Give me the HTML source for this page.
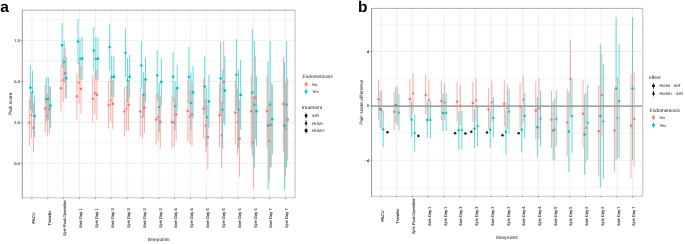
<!DOCTYPE html>
<html><head><meta charset="utf-8"><title>Figure</title>
<style>
html,body{margin:0;padding:0;background:#fff;}
body{width:685px;height:244px;overflow:hidden;font-family:"Liberation Sans",sans-serif;}
svg{display:block;}
#w{width:685px;height:244px;will-change:transform;}
text{text-rendering:geometricPrecision;}
.sm{stroke-width:0.12px;}
.tt{stroke-width:0px;}
</style></head><body>
<div id="w">
<svg width="685" height="244" viewBox="0 0 685 244">
<rect width="685" height="244" fill="#fff"/>
<line x1="22.3" x2="295.0" y1="19.90" y2="19.90" stroke="#f2f2f2" stroke-width="0.8"/>
<line x1="22.3" x2="295.0" y1="60.90" y2="60.90" stroke="#f2f2f2" stroke-width="0.8"/>
<line x1="22.3" x2="295.0" y1="101.90" y2="101.90" stroke="#f2f2f2" stroke-width="0.8"/>
<line x1="22.3" x2="295.0" y1="142.90" y2="142.90" stroke="#f2f2f2" stroke-width="0.8"/>
<line x1="22.3" x2="295.0" y1="183.90" y2="183.90" stroke="#f2f2f2" stroke-width="0.8"/>
<line x1="22.3" x2="295.0" y1="40.40" y2="40.40" stroke="#ebebeb" stroke-width="0.8"/>
<line x1="22.3" x2="295.0" y1="81.40" y2="81.40" stroke="#ebebeb" stroke-width="0.8"/>
<line x1="22.3" x2="295.0" y1="122.40" y2="122.40" stroke="#ebebeb" stroke-width="0.8"/>
<line x1="22.3" x2="295.0" y1="163.40" y2="163.40" stroke="#ebebeb" stroke-width="0.8"/>
<line x1="31.95" x2="31.95" y1="10.2" y2="197.5" stroke="#ebebeb" stroke-width="0.8"/>
<line x1="47.80" x2="47.80" y1="10.2" y2="197.5" stroke="#ebebeb" stroke-width="0.8"/>
<line x1="63.65" x2="63.65" y1="10.2" y2="197.5" stroke="#ebebeb" stroke-width="0.8"/>
<line x1="79.50" x2="79.50" y1="10.2" y2="197.5" stroke="#ebebeb" stroke-width="0.8"/>
<line x1="95.35" x2="95.35" y1="10.2" y2="197.5" stroke="#ebebeb" stroke-width="0.8"/>
<line x1="111.20" x2="111.20" y1="10.2" y2="197.5" stroke="#ebebeb" stroke-width="0.8"/>
<line x1="127.05" x2="127.05" y1="10.2" y2="197.5" stroke="#ebebeb" stroke-width="0.8"/>
<line x1="142.90" x2="142.90" y1="10.2" y2="197.5" stroke="#ebebeb" stroke-width="0.8"/>
<line x1="158.75" x2="158.75" y1="10.2" y2="197.5" stroke="#ebebeb" stroke-width="0.8"/>
<line x1="174.60" x2="174.60" y1="10.2" y2="197.5" stroke="#ebebeb" stroke-width="0.8"/>
<line x1="190.45" x2="190.45" y1="10.2" y2="197.5" stroke="#ebebeb" stroke-width="0.8"/>
<line x1="206.30" x2="206.30" y1="10.2" y2="197.5" stroke="#ebebeb" stroke-width="0.8"/>
<line x1="222.15" x2="222.15" y1="10.2" y2="197.5" stroke="#ebebeb" stroke-width="0.8"/>
<line x1="238.00" x2="238.00" y1="10.2" y2="197.5" stroke="#ebebeb" stroke-width="0.8"/>
<line x1="253.85" x2="253.85" y1="10.2" y2="197.5" stroke="#ebebeb" stroke-width="0.8"/>
<line x1="269.70" x2="269.70" y1="10.2" y2="197.5" stroke="#ebebeb" stroke-width="0.8"/>
<line x1="285.55" x2="285.55" y1="10.2" y2="197.5" stroke="#ebebeb" stroke-width="0.8"/>
<rect x="28.85" y="99.20" width="1.0" height="46.70" fill="#F8766D" fill-opacity="0.6"/>
<rect x="29.90" y="65.10" width="1.0" height="44.90" fill="#00BFC4" fill-opacity="0.6"/>
<rect x="30.95" y="92.80" width="1.0" height="45.20" fill="#F8766D" fill-opacity="0.6"/>
<rect x="31.95" y="70.80" width="1.0" height="42.00" fill="#00BFC4" fill-opacity="0.6"/>
<rect x="33.00" y="103.10" width="1.0" height="49.30" fill="#F8766D" fill-opacity="0.6"/>
<rect x="34.05" y="95.30" width="1.0" height="41.90" fill="#00BFC4" fill-opacity="0.6"/>
<rect x="44.70" y="85.00" width="1.0" height="46.80" fill="#F8766D" fill-opacity="0.6"/>
<rect x="45.75" y="76.50" width="1.0" height="45.40" fill="#00BFC4" fill-opacity="0.6"/>
<rect x="46.80" y="93.80" width="1.0" height="42.80" fill="#F8766D" fill-opacity="0.6"/>
<rect x="47.80" y="77.20" width="1.0" height="43.00" fill="#00BFC4" fill-opacity="0.6"/>
<rect x="48.85" y="86.00" width="1.0" height="47.80" fill="#F8766D" fill-opacity="0.6"/>
<rect x="49.90" y="86.40" width="1.0" height="41.40" fill="#00BFC4" fill-opacity="0.6"/>
<rect x="60.55" y="64.90" width="1.0" height="46.70" fill="#F8766D" fill-opacity="0.6"/>
<rect x="61.60" y="22.70" width="1.0" height="45.30" fill="#00BFC4" fill-opacity="0.6"/>
<rect x="62.65" y="58.10" width="1.0" height="43.60" fill="#F8766D" fill-opacity="0.6"/>
<rect x="63.65" y="40.90" width="1.0" height="42.10" fill="#00BFC4" fill-opacity="0.6"/>
<rect x="64.70" y="48.30" width="1.0" height="49.70" fill="#F8766D" fill-opacity="0.6"/>
<rect x="65.75" y="57.10" width="1.0" height="41.60" fill="#00BFC4" fill-opacity="0.6"/>
<rect x="76.40" y="72.70" width="1.0" height="47.00" fill="#F8766D" fill-opacity="0.6"/>
<rect x="77.45" y="18.90" width="1.0" height="45.10" fill="#00BFC4" fill-opacity="0.6"/>
<rect x="78.50" y="61.00" width="1.0" height="43.00" fill="#F8766D" fill-opacity="0.6"/>
<rect x="79.50" y="38.00" width="1.0" height="41.00" fill="#00BFC4" fill-opacity="0.6"/>
<rect x="80.55" y="66.00" width="1.0" height="47.60" fill="#F8766D" fill-opacity="0.6"/>
<rect x="81.60" y="37.00" width="1.0" height="43.00" fill="#00BFC4" fill-opacity="0.6"/>
<rect x="92.25" y="75.00" width="1.0" height="47.30" fill="#F8766D" fill-opacity="0.6"/>
<rect x="93.30" y="27.00" width="1.0" height="43.90" fill="#00BFC4" fill-opacity="0.6"/>
<rect x="94.35" y="71.00" width="1.0" height="43.50" fill="#F8766D" fill-opacity="0.6"/>
<rect x="95.35" y="37.40" width="1.0" height="42.30" fill="#00BFC4" fill-opacity="0.6"/>
<rect x="96.40" y="69.90" width="1.0" height="49.50" fill="#F8766D" fill-opacity="0.6"/>
<rect x="97.45" y="37.40" width="1.0" height="42.30" fill="#00BFC4" fill-opacity="0.6"/>
<rect x="108.10" y="81.20" width="1.0" height="47.50" fill="#F8766D" fill-opacity="0.6"/>
<rect x="109.15" y="23.70" width="1.0" height="47.20" fill="#00BFC4" fill-opacity="0.6"/>
<rect x="110.20" y="77.80" width="1.0" height="44.00" fill="#F8766D" fill-opacity="0.6"/>
<rect x="111.20" y="55.50" width="1.0" height="41.80" fill="#00BFC4" fill-opacity="0.6"/>
<rect x="112.25" y="80.00" width="1.0" height="48.90" fill="#F8766D" fill-opacity="0.6"/>
<rect x="113.30" y="55.50" width="1.0" height="41.80" fill="#00BFC4" fill-opacity="0.6"/>
<rect x="123.95" y="87.10" width="1.0" height="49.30" fill="#F8766D" fill-opacity="0.6"/>
<rect x="125.00" y="28.60" width="1.0" height="48.20" fill="#00BFC4" fill-opacity="0.6"/>
<rect x="126.05" y="86.00" width="1.0" height="44.70" fill="#F8766D" fill-opacity="0.6"/>
<rect x="127.05" y="58.00" width="1.0" height="44.70" fill="#00BFC4" fill-opacity="0.6"/>
<rect x="128.10" y="80.20" width="1.0" height="50.50" fill="#F8766D" fill-opacity="0.6"/>
<rect x="129.15" y="55.00" width="1.0" height="42.80" fill="#00BFC4" fill-opacity="0.6"/>
<rect x="139.80" y="88.00" width="1.0" height="48.40" fill="#F8766D" fill-opacity="0.6"/>
<rect x="140.85" y="41.20" width="1.0" height="47.80" fill="#00BFC4" fill-opacity="0.6"/>
<rect x="141.90" y="94.00" width="1.0" height="44.70" fill="#F8766D" fill-opacity="0.6"/>
<rect x="142.90" y="72.40" width="1.0" height="43.60" fill="#00BFC4" fill-opacity="0.6"/>
<rect x="143.95" y="81.70" width="1.0" height="51.70" fill="#F8766D" fill-opacity="0.6"/>
<rect x="145.00" y="57.70" width="1.0" height="44.10" fill="#00BFC4" fill-opacity="0.6"/>
<rect x="155.65" y="93.90" width="1.0" height="51.10" fill="#F8766D" fill-opacity="0.6"/>
<rect x="156.70" y="50.30" width="1.0" height="50.40" fill="#00BFC4" fill-opacity="0.6"/>
<rect x="157.75" y="92.90" width="1.0" height="48.00" fill="#F8766D" fill-opacity="0.6"/>
<rect x="158.75" y="82.80" width="1.0" height="49.80" fill="#00BFC4" fill-opacity="0.6"/>
<rect x="159.80" y="95.30" width="1.0" height="53.40" fill="#F8766D" fill-opacity="0.6"/>
<rect x="160.85" y="58.20" width="1.0" height="47.50" fill="#00BFC4" fill-opacity="0.6"/>
<rect x="171.50" y="95.30" width="1.0" height="53.40" fill="#F8766D" fill-opacity="0.6"/>
<rect x="172.55" y="51.60" width="1.0" height="49.60" fill="#00BFC4" fill-opacity="0.6"/>
<rect x="173.60" y="98.00" width="1.0" height="48.80" fill="#F8766D" fill-opacity="0.6"/>
<rect x="174.60" y="81.20" width="1.0" height="48.80" fill="#00BFC4" fill-opacity="0.6"/>
<rect x="175.65" y="88.00" width="1.0" height="52.90" fill="#F8766D" fill-opacity="0.6"/>
<rect x="176.70" y="64.80" width="1.0" height="46.70" fill="#00BFC4" fill-opacity="0.6"/>
<rect x="187.35" y="80.20" width="1.0" height="61.20" fill="#F8766D" fill-opacity="0.6"/>
<rect x="188.40" y="47.00" width="1.0" height="56.00" fill="#00BFC4" fill-opacity="0.6"/>
<rect x="189.45" y="90.00" width="1.0" height="53.80" fill="#F8766D" fill-opacity="0.6"/>
<rect x="190.45" y="72.80" width="1.0" height="57.20" fill="#00BFC4" fill-opacity="0.6"/>
<rect x="191.50" y="82.80" width="1.0" height="63.00" fill="#F8766D" fill-opacity="0.6"/>
<rect x="192.55" y="66.10" width="1.0" height="52.30" fill="#00BFC4" fill-opacity="0.6"/>
<rect x="203.20" y="77.90" width="1.0" height="61.00" fill="#F8766D" fill-opacity="0.6"/>
<rect x="204.25" y="56.20" width="1.0" height="58.80" fill="#00BFC4" fill-opacity="0.6"/>
<rect x="205.30" y="98.30" width="1.0" height="54.40" fill="#F8766D" fill-opacity="0.6"/>
<rect x="206.30" y="88.00" width="1.0" height="58.80" fill="#00BFC4" fill-opacity="0.6"/>
<rect x="207.35" y="105.00" width="1.0" height="64.80" fill="#F8766D" fill-opacity="0.6"/>
<rect x="208.40" y="75.00" width="1.0" height="52.70" fill="#00BFC4" fill-opacity="0.6"/>
<rect x="219.05" y="83.00" width="1.0" height="64.40" fill="#F8766D" fill-opacity="0.6"/>
<rect x="220.10" y="42.50" width="1.0" height="71.80" fill="#00BFC4" fill-opacity="0.6"/>
<rect x="221.15" y="102.00" width="1.0" height="65.70" fill="#F8766D" fill-opacity="0.6"/>
<rect x="222.15" y="70.00" width="1.0" height="78.60" fill="#00BFC4" fill-opacity="0.6"/>
<rect x="223.20" y="41.00" width="1.0" height="82.00" fill="#F8766D" fill-opacity="0.6"/>
<rect x="224.25" y="56.00" width="1.0" height="69.00" fill="#00BFC4" fill-opacity="0.6"/>
<rect x="234.90" y="80.70" width="1.0" height="63.70" fill="#F8766D" fill-opacity="0.6"/>
<rect x="235.95" y="39.20" width="1.0" height="70.80" fill="#00BFC4" fill-opacity="0.6"/>
<rect x="237.00" y="88.80" width="1.0" height="65.80" fill="#F8766D" fill-opacity="0.6"/>
<rect x="238.00" y="70.00" width="1.0" height="78.60" fill="#00BFC4" fill-opacity="0.6"/>
<rect x="239.05" y="100.00" width="1.0" height="76.80" fill="#F8766D" fill-opacity="0.6"/>
<rect x="240.10" y="60.00" width="1.0" height="69.80" fill="#00BFC4" fill-opacity="0.6"/>
<rect x="250.75" y="75.10" width="1.0" height="72.30" fill="#F8766D" fill-opacity="0.6"/>
<rect x="251.80" y="29.00" width="1.0" height="127.40" fill="#00BFC4" fill-opacity="0.6"/>
<rect x="252.85" y="96.00" width="1.0" height="92.80" fill="#F8766D" fill-opacity="0.6"/>
<rect x="253.85" y="41.00" width="1.0" height="126.70" fill="#00BFC4" fill-opacity="0.6"/>
<rect x="254.90" y="56.20" width="1.0" height="82.80" fill="#F8766D" fill-opacity="0.6"/>
<rect x="255.95" y="76.30" width="1.0" height="69.90" fill="#00BFC4" fill-opacity="0.6"/>
<rect x="266.60" y="75.10" width="1.0" height="72.30" fill="#F8766D" fill-opacity="0.6"/>
<rect x="267.65" y="62.00" width="1.0" height="127.60" fill="#00BFC4" fill-opacity="0.6"/>
<rect x="268.70" y="101.00" width="1.0" height="80.00" fill="#F8766D" fill-opacity="0.6"/>
<rect x="269.70" y="41.00" width="1.0" height="126.80" fill="#00BFC4" fill-opacity="0.6"/>
<rect x="270.75" y="83.00" width="1.0" height="84.10" fill="#F8766D" fill-opacity="0.6"/>
<rect x="271.80" y="84.60" width="1.0" height="70.00" fill="#00BFC4" fill-opacity="0.6"/>
<rect x="282.95" y="56.80" width="1.0" height="94.80" fill="#F8766D" fill-opacity="0.6"/>
<rect x="284.00" y="62.00" width="1.0" height="127.60" fill="#00BFC4" fill-opacity="0.6"/>
<rect x="285.05" y="82.00" width="1.0" height="93.60" fill="#F8766D" fill-opacity="0.6"/>
<rect x="286.10" y="41.00" width="1.0" height="126.70" fill="#00BFC4" fill-opacity="0.6"/>
<rect x="287.15" y="78.40" width="1.0" height="82.20" fill="#F8766D" fill-opacity="0.6"/>
<circle cx="29.35" cy="122.50" r="1.25" fill="#F8766D"/>
<circle cx="30.40" cy="87.70" r="1.25" fill="#00BFC4"/>
<polygon points="31.45,113.42 30.01,116.01 32.89,116.01" fill="#F8766D"/>
<polygon points="32.45,90.22 31.01,92.81 33.89,92.81" fill="#00BFC4"/>
<rect x="32.31" y="126.61" width="2.38" height="2.38" fill="#F8766D"/>
<rect x="33.36" y="114.81" width="2.38" height="2.38" fill="#00BFC4"/>
<circle cx="45.20" cy="108.60" r="1.25" fill="#F8766D"/>
<circle cx="46.25" cy="99.20" r="1.25" fill="#00BFC4"/>
<polygon points="47.30,113.92 45.86,116.51 48.74,116.51" fill="#F8766D"/>
<polygon points="48.30,97.12 46.86,99.71 49.74,99.71" fill="#00BFC4"/>
<rect x="48.16" y="107.81" width="2.38" height="2.38" fill="#F8766D"/>
<rect x="49.21" y="104.41" width="2.38" height="2.38" fill="#00BFC4"/>
<circle cx="61.05" cy="88.30" r="1.25" fill="#F8766D"/>
<circle cx="62.10" cy="45.30" r="1.25" fill="#00BFC4"/>
<polygon points="63.15,78.22 61.71,80.81 64.59,80.81" fill="#F8766D"/>
<polygon points="64.15,60.52 62.71,63.11 65.59,63.11" fill="#00BFC4"/>
<rect x="64.01" y="72.01" width="2.38" height="2.38" fill="#F8766D"/>
<rect x="65.06" y="77.01" width="2.38" height="2.38" fill="#00BFC4"/>
<circle cx="76.90" cy="96.30" r="1.25" fill="#F8766D"/>
<circle cx="77.95" cy="41.40" r="1.25" fill="#00BFC4"/>
<polygon points="79.00,80.92 77.56,83.51 80.44,83.51" fill="#F8766D"/>
<polygon points="80.00,57.02 78.56,59.61 81.44,59.61" fill="#00BFC4"/>
<rect x="79.86" y="87.71" width="2.38" height="2.38" fill="#F8766D"/>
<rect x="80.91" y="57.41" width="2.38" height="2.38" fill="#00BFC4"/>
<circle cx="92.75" cy="98.80" r="1.25" fill="#F8766D"/>
<circle cx="93.80" cy="50.60" r="1.25" fill="#00BFC4"/>
<polygon points="94.85,91.32 93.41,93.91 96.29,93.91" fill="#F8766D"/>
<polygon points="95.85,57.12 94.41,59.71 97.29,59.71" fill="#00BFC4"/>
<rect x="95.71" y="93.51" width="2.38" height="2.38" fill="#F8766D"/>
<rect x="96.76" y="57.51" width="2.38" height="2.38" fill="#00BFC4"/>
<circle cx="108.60" cy="104.90" r="1.25" fill="#F8766D"/>
<circle cx="109.65" cy="47.10" r="1.25" fill="#00BFC4"/>
<polygon points="110.70,98.42 109.26,101.01 112.14,101.01" fill="#F8766D"/>
<polygon points="111.70,75.22 110.26,77.81 113.14,77.81" fill="#00BFC4"/>
<rect x="111.56" y="102.71" width="2.38" height="2.38" fill="#F8766D"/>
<rect x="112.61" y="75.61" width="2.38" height="2.38" fill="#00BFC4"/>
<circle cx="124.45" cy="111.60" r="1.25" fill="#F8766D"/>
<circle cx="125.50" cy="52.80" r="1.25" fill="#00BFC4"/>
<polygon points="126.55,106.92 125.11,109.51 127.99,109.51" fill="#F8766D"/>
<polygon points="127.55,78.62 126.11,81.21 128.99,81.21" fill="#00BFC4"/>
<rect x="127.41" y="103.71" width="2.38" height="2.38" fill="#F8766D"/>
<rect x="128.46" y="75.61" width="2.38" height="2.38" fill="#00BFC4"/>
<circle cx="140.30" cy="111.60" r="1.25" fill="#F8766D"/>
<circle cx="141.35" cy="65.50" r="1.25" fill="#00BFC4"/>
<polygon points="142.40,114.82 140.96,117.41 143.84,117.41" fill="#F8766D"/>
<polygon points="143.40,93.12 141.96,95.71 144.84,95.71" fill="#00BFC4"/>
<rect x="143.26" y="106.51" width="2.38" height="2.38" fill="#F8766D"/>
<rect x="144.31" y="78.31" width="2.38" height="2.38" fill="#00BFC4"/>
<circle cx="156.15" cy="119.50" r="1.25" fill="#F8766D"/>
<circle cx="157.20" cy="75.60" r="1.25" fill="#00BFC4"/>
<polygon points="158.25,115.32 156.81,117.91 159.69,117.91" fill="#F8766D"/>
<polygon points="159.25,105.42 157.81,108.01 160.69,108.01" fill="#00BFC4"/>
<rect x="159.11" y="120.81" width="2.38" height="2.38" fill="#F8766D"/>
<rect x="160.16" y="80.71" width="2.38" height="2.38" fill="#00BFC4"/>
<circle cx="172.00" cy="122.00" r="1.25" fill="#F8766D"/>
<circle cx="173.05" cy="76.70" r="1.25" fill="#00BFC4"/>
<polygon points="174.10,121.02 172.66,123.61 175.54,123.61" fill="#F8766D"/>
<polygon points="175.10,104.42 173.66,107.01 176.54,107.01" fill="#00BFC4"/>
<rect x="174.96" y="113.21" width="2.38" height="2.38" fill="#F8766D"/>
<rect x="176.01" y="87.01" width="2.38" height="2.38" fill="#00BFC4"/>
<circle cx="187.85" cy="111.00" r="1.25" fill="#F8766D"/>
<circle cx="188.90" cy="77.00" r="1.25" fill="#00BFC4"/>
<polygon points="189.95,114.82 188.51,117.41 191.39,117.41" fill="#F8766D"/>
<polygon points="190.95,101.32 189.51,103.91 192.39,103.91" fill="#00BFC4"/>
<rect x="190.81" y="113.21" width="2.38" height="2.38" fill="#F8766D"/>
<rect x="191.86" y="91.21" width="2.38" height="2.38" fill="#00BFC4"/>
<circle cx="203.70" cy="108.80" r="1.25" fill="#F8766D"/>
<circle cx="204.75" cy="86.50" r="1.25" fill="#00BFC4"/>
<polygon points="205.80,123.92 204.36,126.51 207.24,126.51" fill="#F8766D"/>
<polygon points="206.80,115.32 205.36,117.91 208.24,117.91" fill="#00BFC4"/>
<rect x="206.66" y="135.81" width="2.38" height="2.38" fill="#F8766D"/>
<rect x="207.71" y="100.21" width="2.38" height="2.38" fill="#00BFC4"/>
<circle cx="219.55" cy="115.20" r="1.25" fill="#F8766D"/>
<circle cx="220.60" cy="78.40" r="1.25" fill="#00BFC4"/>
<polygon points="221.65,133.62 220.21,136.21 223.09,136.21" fill="#F8766D"/>
<polygon points="222.65,107.92 221.21,110.51 224.09,110.51" fill="#00BFC4"/>
<rect x="222.51" y="80.81" width="2.38" height="2.38" fill="#F8766D"/>
<rect x="223.56" y="89.41" width="2.38" height="2.38" fill="#00BFC4"/>
<circle cx="235.40" cy="112.40" r="1.25" fill="#F8766D"/>
<circle cx="236.45" cy="74.80" r="1.25" fill="#00BFC4"/>
<polygon points="237.50,120.42 236.06,123.01 238.94,123.01" fill="#F8766D"/>
<polygon points="238.50,107.92 237.06,110.51 239.94,110.51" fill="#00BFC4"/>
<rect x="238.36" y="137.51" width="2.38" height="2.38" fill="#F8766D"/>
<rect x="239.41" y="93.61" width="2.38" height="2.38" fill="#00BFC4"/>
<circle cx="251.25" cy="111.20" r="1.25" fill="#F8766D"/>
<circle cx="252.30" cy="92.60" r="1.25" fill="#00BFC4"/>
<polygon points="253.35,140.82 251.91,143.41 254.79,143.41" fill="#F8766D"/>
<polygon points="254.35,102.82 252.91,105.41 255.79,105.41" fill="#00BFC4"/>
<rect x="254.21" y="96.61" width="2.38" height="2.38" fill="#F8766D"/>
<rect x="255.26" y="110.11" width="2.38" height="2.38" fill="#00BFC4"/>
<circle cx="267.10" cy="111.20" r="1.25" fill="#F8766D"/>
<circle cx="268.15" cy="125.60" r="1.25" fill="#00BFC4"/>
<polygon points="269.20,139.52 267.76,142.11 270.64,142.11" fill="#F8766D"/>
<polygon points="270.20,102.82 268.76,105.41 271.64,105.41" fill="#00BFC4"/>
<rect x="270.06" y="123.81" width="2.38" height="2.38" fill="#F8766D"/>
<rect x="271.11" y="118.01" width="2.38" height="2.38" fill="#00BFC4"/>
<circle cx="283.45" cy="104.10" r="1.25" fill="#F8766D"/>
<circle cx="284.50" cy="125.60" r="1.25" fill="#00BFC4"/>
<polygon points="285.55,127.02 284.11,129.61 286.99,129.61" fill="#F8766D"/>
<polygon points="286.60,102.82 285.16,105.41 288.04,105.41" fill="#00BFC4"/>
<rect x="286.46" y="118.41" width="2.38" height="2.38" fill="#F8766D"/>
<line x1="21.85" x2="295.45" y1="10.2" y2="10.2" stroke="#a6a6a6" stroke-width="0.9"/><line x1="21.85" x2="295.5" y1="197.8" y2="197.8" stroke="#c4c4c4" stroke-width="1.1"/><line x1="295.1" x2="295.1" y1="10.2" y2="197.8" stroke="#c4c4c4" stroke-width="1.1"/><line x1="22.3" x2="22.3" y1="10.2" y2="198.3" stroke="#8a8a8a" stroke-width="0.9"/>
<line x1="21.0" x2="22.3" y1="40.40" y2="40.40" stroke="#444" stroke-width="0.6"/>
<text class="sm" stroke="#333" x="19.90" y="41.85" font-size="4" fill="#333" text-anchor="end" font-family="Liberation Sans, sans-serif">7.5</text>
<line x1="21.0" x2="22.3" y1="81.40" y2="81.40" stroke="#444" stroke-width="0.6"/>
<text class="sm" stroke="#333" x="19.90" y="82.85" font-size="4" fill="#333" text-anchor="end" font-family="Liberation Sans, sans-serif">5.0</text>
<line x1="21.0" x2="22.3" y1="122.40" y2="122.40" stroke="#444" stroke-width="0.6"/>
<text class="sm" stroke="#333" x="19.90" y="123.85" font-size="4" fill="#333" text-anchor="end" font-family="Liberation Sans, sans-serif">2.5</text>
<line x1="21.0" x2="22.3" y1="163.40" y2="163.40" stroke="#444" stroke-width="0.6"/>
<text class="sm" stroke="#333" x="19.90" y="164.85" font-size="4" fill="#333" text-anchor="end" font-family="Liberation Sans, sans-serif">0.0</text>
<line x1="31.95" x2="31.95" y1="197.5" y2="198.8" stroke="#444" stroke-width="0.6"/>
<text class="sm" stroke="#333" transform="translate(34.70,218.0) rotate(-90)" font-size="4" fill="#333" text-anchor="middle" font-family="Liberation Sans, sans-serif">PACU</text>
<line x1="47.80" x2="47.80" y1="197.5" y2="198.8" stroke="#444" stroke-width="0.6"/>
<text class="sm" stroke="#333" transform="translate(50.55,218.0) rotate(-90)" font-size="4" fill="#333" text-anchor="middle" font-family="Liberation Sans, sans-serif">Transfer</text>
<line x1="63.65" x2="63.65" y1="197.5" y2="198.8" stroke="#444" stroke-width="0.6"/>
<text class="sm" stroke="#333" transform="translate(66.40,218.0) rotate(-90)" font-size="4" fill="#333" text-anchor="middle" font-family="Liberation Sans, sans-serif">6pm Post-Operative</text>
<line x1="79.50" x2="79.50" y1="197.5" y2="198.8" stroke="#444" stroke-width="0.6"/>
<text class="sm" stroke="#333" transform="translate(82.25,218.0) rotate(-90)" font-size="4" fill="#333" text-anchor="middle" font-family="Liberation Sans, sans-serif">6am Day 1</text>
<line x1="95.35" x2="95.35" y1="197.5" y2="198.8" stroke="#444" stroke-width="0.6"/>
<text class="sm" stroke="#333" transform="translate(98.10,218.0) rotate(-90)" font-size="4" fill="#333" text-anchor="middle" font-family="Liberation Sans, sans-serif">6pm Day 1</text>
<line x1="111.20" x2="111.20" y1="197.5" y2="198.8" stroke="#444" stroke-width="0.6"/>
<text class="sm" stroke="#333" transform="translate(113.95,218.0) rotate(-90)" font-size="4" fill="#333" text-anchor="middle" font-family="Liberation Sans, sans-serif">6am Day 2</text>
<line x1="127.05" x2="127.05" y1="197.5" y2="198.8" stroke="#444" stroke-width="0.6"/>
<text class="sm" stroke="#333" transform="translate(129.80,218.0) rotate(-90)" font-size="4" fill="#333" text-anchor="middle" font-family="Liberation Sans, sans-serif">6pm Day 2</text>
<line x1="142.90" x2="142.90" y1="197.5" y2="198.8" stroke="#444" stroke-width="0.6"/>
<text class="sm" stroke="#333" transform="translate(145.65,218.0) rotate(-90)" font-size="4" fill="#333" text-anchor="middle" font-family="Liberation Sans, sans-serif">6am Day 3</text>
<line x1="158.75" x2="158.75" y1="197.5" y2="198.8" stroke="#444" stroke-width="0.6"/>
<text class="sm" stroke="#333" transform="translate(161.50,218.0) rotate(-90)" font-size="4" fill="#333" text-anchor="middle" font-family="Liberation Sans, sans-serif">6pm Day 3</text>
<line x1="174.60" x2="174.60" y1="197.5" y2="198.8" stroke="#444" stroke-width="0.6"/>
<text class="sm" stroke="#333" transform="translate(177.35,218.0) rotate(-90)" font-size="4" fill="#333" text-anchor="middle" font-family="Liberation Sans, sans-serif">6am Day 4</text>
<line x1="190.45" x2="190.45" y1="197.5" y2="198.8" stroke="#444" stroke-width="0.6"/>
<text class="sm" stroke="#333" transform="translate(193.20,218.0) rotate(-90)" font-size="4" fill="#333" text-anchor="middle" font-family="Liberation Sans, sans-serif">6pm Day 4</text>
<line x1="206.30" x2="206.30" y1="197.5" y2="198.8" stroke="#444" stroke-width="0.6"/>
<text class="sm" stroke="#333" transform="translate(209.05,218.0) rotate(-90)" font-size="4" fill="#333" text-anchor="middle" font-family="Liberation Sans, sans-serif">6am Day 5</text>
<line x1="222.15" x2="222.15" y1="197.5" y2="198.8" stroke="#444" stroke-width="0.6"/>
<text class="sm" stroke="#333" transform="translate(224.90,218.0) rotate(-90)" font-size="4" fill="#333" text-anchor="middle" font-family="Liberation Sans, sans-serif">6pm Day 5</text>
<line x1="238.00" x2="238.00" y1="197.5" y2="198.8" stroke="#444" stroke-width="0.6"/>
<text class="sm" stroke="#333" transform="translate(240.75,218.0) rotate(-90)" font-size="4" fill="#333" text-anchor="middle" font-family="Liberation Sans, sans-serif">6am Day 6</text>
<line x1="253.85" x2="253.85" y1="197.5" y2="198.8" stroke="#444" stroke-width="0.6"/>
<text class="sm" stroke="#333" transform="translate(256.60,218.0) rotate(-90)" font-size="4" fill="#333" text-anchor="middle" font-family="Liberation Sans, sans-serif">6pm Day 6</text>
<line x1="269.70" x2="269.70" y1="197.5" y2="198.8" stroke="#444" stroke-width="0.6"/>
<text class="sm" stroke="#333" transform="translate(272.45,218.0) rotate(-90)" font-size="4" fill="#333" text-anchor="middle" font-family="Liberation Sans, sans-serif">6am Day 7</text>
<line x1="285.55" x2="285.55" y1="197.5" y2="198.8" stroke="#444" stroke-width="0.6"/>
<text class="sm" stroke="#333" transform="translate(288.30,218.0) rotate(-90)" font-size="4" fill="#333" text-anchor="middle" font-family="Liberation Sans, sans-serif">6pm Day 7</text>
<text class="tt" stroke="#111" x="158.65" y="240.7" font-size="4.8" fill="#111" text-anchor="middle" font-family="Liberation Sans, sans-serif">timepoints</text>
<text class="tt" stroke="#111" transform="translate(12.0,103.85) rotate(-90)" font-size="4.8" fill="#111" text-anchor="middle" font-family="Liberation Sans, sans-serif">Pain score</text>
<text class="tt" stroke="#111" x="302.4" y="77.7" font-size="4.8" fill="#111" font-family="Liberation Sans, sans-serif">Endometriosis</text>
<line x1="306.1" x2="306.1" y1="81.30" y2="87.30" stroke="#F8766D" stroke-width="0.65"/><circle cx="306.10" cy="84.30" r="1.45" fill="#F8766D"/>
<text x="311.9" y="85.75" font-size="4.2" fill="#1a1a1a" font-family="Liberation Sans, sans-serif">No</text>
<line x1="306.1" x2="306.1" y1="88.60" y2="94.60" stroke="#00BFC4" stroke-width="0.65"/><circle cx="306.10" cy="91.60" r="1.45" fill="#00BFC4"/>
<text x="311.9" y="93.05" font-size="4.2" fill="#1a1a1a" font-family="Liberation Sans, sans-serif">Yes</text>
<text class="tt" stroke="#111" x="301.9" y="109.0" font-size="4.8" fill="#111" font-family="Liberation Sans, sans-serif">treatment</text>
<line x1="306.1" x2="306.1" y1="112.80" y2="118.80" stroke="#000" stroke-width="0.65"/><circle cx="306.10" cy="115.80" r="1.45" fill="#000"/>
<text x="312" y="117.25" font-size="4.2" fill="#1a1a1a" font-family="Liberation Sans, sans-serif">AIR</text>
<line x1="306.1" x2="306.1" y1="120.20" y2="126.20" stroke="#000" stroke-width="0.65"/><polygon points="306.10,121.37 304.43,124.37 307.77,124.37" fill="#000"/>
<text x="312" y="124.65" font-size="4.2" fill="#1a1a1a" font-family="Liberation Sans, sans-serif">HUMI</text>
<line x1="306.1" x2="306.1" y1="127.60" y2="133.60" stroke="#000" stroke-width="0.65"/><rect x="304.72" y="129.22" width="2.75" height="2.75" fill="#000"/>
<text x="312" y="132.05" font-size="4.2" fill="#1a1a1a" font-family="Liberation Sans, sans-serif">HUMI+</text>
<line x1="371.6" x2="642.6" y1="24.30" y2="24.30" stroke="#f2f2f2" stroke-width="0.8"/>
<line x1="371.6" x2="642.6" y1="78.70" y2="78.70" stroke="#f2f2f2" stroke-width="0.8"/>
<line x1="371.6" x2="642.6" y1="133.10" y2="133.10" stroke="#f2f2f2" stroke-width="0.8"/>
<line x1="371.6" x2="642.6" y1="187.50" y2="187.50" stroke="#f2f2f2" stroke-width="0.8"/>
<line x1="371.6" x2="642.6" y1="51.50" y2="51.50" stroke="#ebebeb" stroke-width="0.8"/>
<line x1="371.6" x2="642.6" y1="105.90" y2="105.90" stroke="#ebebeb" stroke-width="0.8"/>
<line x1="371.6" x2="642.6" y1="160.30" y2="160.30" stroke="#ebebeb" stroke-width="0.8"/>
<line x1="380.95" x2="380.95" y1="8.4" y2="196.0" stroke="#ebebeb" stroke-width="0.8"/>
<line x1="396.68" x2="396.68" y1="8.4" y2="196.0" stroke="#ebebeb" stroke-width="0.8"/>
<line x1="412.41" x2="412.41" y1="8.4" y2="196.0" stroke="#ebebeb" stroke-width="0.8"/>
<line x1="428.14" x2="428.14" y1="8.4" y2="196.0" stroke="#ebebeb" stroke-width="0.8"/>
<line x1="443.87" x2="443.87" y1="8.4" y2="196.0" stroke="#ebebeb" stroke-width="0.8"/>
<line x1="459.60" x2="459.60" y1="8.4" y2="196.0" stroke="#ebebeb" stroke-width="0.8"/>
<line x1="475.33" x2="475.33" y1="8.4" y2="196.0" stroke="#ebebeb" stroke-width="0.8"/>
<line x1="491.06" x2="491.06" y1="8.4" y2="196.0" stroke="#ebebeb" stroke-width="0.8"/>
<line x1="506.79" x2="506.79" y1="8.4" y2="196.0" stroke="#ebebeb" stroke-width="0.8"/>
<line x1="522.52" x2="522.52" y1="8.4" y2="196.0" stroke="#ebebeb" stroke-width="0.8"/>
<line x1="538.25" x2="538.25" y1="8.4" y2="196.0" stroke="#ebebeb" stroke-width="0.8"/>
<line x1="553.98" x2="553.98" y1="8.4" y2="196.0" stroke="#ebebeb" stroke-width="0.8"/>
<line x1="569.71" x2="569.71" y1="8.4" y2="196.0" stroke="#ebebeb" stroke-width="0.8"/>
<line x1="585.44" x2="585.44" y1="8.4" y2="196.0" stroke="#ebebeb" stroke-width="0.8"/>
<line x1="601.17" x2="601.17" y1="8.4" y2="196.0" stroke="#ebebeb" stroke-width="0.8"/>
<line x1="616.90" x2="616.90" y1="8.4" y2="196.0" stroke="#ebebeb" stroke-width="0.8"/>
<line x1="632.63" x2="632.63" y1="8.4" y2="196.0" stroke="#ebebeb" stroke-width="0.8"/>
<line x1="371.6" x2="642.6" y1="106.2" y2="106.2" stroke="#8a8a8a" stroke-width="1.2"/>
<rect x="378.00" y="79.80" width="1.0" height="39.30" fill="#F8766D" fill-opacity="0.6"/>
<rect x="379.60" y="90.90" width="1.0" height="36.90" fill="#00BFC4" fill-opacity="0.6"/>
<rect x="381.15" y="90.30" width="1.0" height="39.70" fill="#F8766D" fill-opacity="0.6"/>
<rect x="382.70" y="111.00" width="1.0" height="36.30" fill="#00BFC4" fill-opacity="0.6"/>
<rect x="393.73" y="92.30" width="1.0" height="37.90" fill="#F8766D" fill-opacity="0.6"/>
<rect x="395.33" y="87.20" width="1.0" height="36.00" fill="#00BFC4" fill-opacity="0.6"/>
<rect x="396.88" y="86.20" width="1.0" height="39.00" fill="#F8766D" fill-opacity="0.6"/>
<rect x="398.43" y="93.70" width="1.0" height="36.50" fill="#00BFC4" fill-opacity="0.6"/>
<rect x="409.46" y="79.20" width="1.0" height="39.30" fill="#F8766D" fill-opacity="0.6"/>
<rect x="411.06" y="101.30" width="1.0" height="36.00" fill="#00BFC4" fill-opacity="0.6"/>
<rect x="412.61" y="73.50" width="1.0" height="39.50" fill="#F8766D" fill-opacity="0.6"/>
<rect x="414.16" y="114.00" width="1.0" height="37.60" fill="#00BFC4" fill-opacity="0.6"/>
<rect x="425.19" y="74.70" width="1.0" height="39.30" fill="#F8766D" fill-opacity="0.6"/>
<rect x="426.79" y="102.00" width="1.0" height="35.30" fill="#00BFC4" fill-opacity="0.6"/>
<rect x="428.34" y="80.20" width="1.0" height="38.80" fill="#F8766D" fill-opacity="0.6"/>
<rect x="429.89" y="100.90" width="1.0" height="37.40" fill="#00BFC4" fill-opacity="0.6"/>
<rect x="440.92" y="80.80" width="1.0" height="39.30" fill="#F8766D" fill-opacity="0.6"/>
<rect x="442.52" y="93.70" width="1.0" height="37.50" fill="#00BFC4" fill-opacity="0.6"/>
<rect x="444.07" y="82.80" width="1.0" height="37.20" fill="#F8766D" fill-opacity="0.6"/>
<rect x="445.62" y="92.90" width="1.0" height="38.30" fill="#00BFC4" fill-opacity="0.6"/>
<rect x="456.65" y="81.80" width="1.0" height="39.30" fill="#F8766D" fill-opacity="0.6"/>
<rect x="458.25" y="111.00" width="1.0" height="38.40" fill="#00BFC4" fill-opacity="0.6"/>
<rect x="459.80" y="84.80" width="1.0" height="40.20" fill="#F8766D" fill-opacity="0.6"/>
<rect x="461.35" y="111.00" width="1.0" height="38.40" fill="#00BFC4" fill-opacity="0.6"/>
<rect x="472.38" y="81.80" width="1.0" height="40.20" fill="#F8766D" fill-opacity="0.6"/>
<rect x="473.98" y="109.00" width="1.0" height="39.00" fill="#00BFC4" fill-opacity="0.6"/>
<rect x="475.53" y="78.80" width="1.0" height="42.90" fill="#F8766D" fill-opacity="0.6"/>
<rect x="477.08" y="106.00" width="1.0" height="40.30" fill="#00BFC4" fill-opacity="0.6"/>
<rect x="488.11" y="88.20" width="1.0" height="40.80" fill="#F8766D" fill-opacity="0.6"/>
<rect x="489.71" y="111.00" width="1.0" height="37.00" fill="#00BFC4" fill-opacity="0.6"/>
<rect x="491.26" y="80.80" width="1.0" height="41.20" fill="#F8766D" fill-opacity="0.6"/>
<rect x="492.81" y="96.90" width="1.0" height="40.40" fill="#00BFC4" fill-opacity="0.6"/>
<rect x="503.84" y="79.80" width="1.0" height="46.40" fill="#F8766D" fill-opacity="0.6"/>
<rect x="505.44" y="110.00" width="1.0" height="44.50" fill="#00BFC4" fill-opacity="0.6"/>
<rect x="506.99" y="84.80" width="1.0" height="44.20" fill="#F8766D" fill-opacity="0.6"/>
<rect x="508.54" y="88.80" width="1.0" height="45.00" fill="#00BFC4" fill-opacity="0.6"/>
<rect x="519.57" y="82.20" width="1.0" height="47.00" fill="#F8766D" fill-opacity="0.6"/>
<rect x="521.17" y="107.00" width="1.0" height="45.40" fill="#00BFC4" fill-opacity="0.6"/>
<rect x="522.72" y="75.50" width="1.0" height="47.70" fill="#F8766D" fill-opacity="0.6"/>
<rect x="524.27" y="92.90" width="1.0" height="45.00" fill="#00BFC4" fill-opacity="0.6"/>
<rect x="535.30" y="81.20" width="1.0" height="58.10" fill="#F8766D" fill-opacity="0.6"/>
<rect x="536.90" y="96.90" width="1.0" height="60.20" fill="#00BFC4" fill-opacity="0.6"/>
<rect x="538.45" y="78.20" width="1.0" height="61.10" fill="#F8766D" fill-opacity="0.6"/>
<rect x="540.00" y="90.90" width="1.0" height="55.40" fill="#00BFC4" fill-opacity="0.6"/>
<rect x="551.03" y="90.90" width="1.0" height="57.10" fill="#F8766D" fill-opacity="0.6"/>
<rect x="552.63" y="100.90" width="1.0" height="59.60" fill="#00BFC4" fill-opacity="0.6"/>
<rect x="554.18" y="97.70" width="1.0" height="62.80" fill="#F8766D" fill-opacity="0.6"/>
<rect x="555.73" y="90.30" width="1.0" height="55.60" fill="#00BFC4" fill-opacity="0.6"/>
<rect x="566.76" y="88.80" width="1.0" height="66.90" fill="#F8766D" fill-opacity="0.6"/>
<rect x="568.36" y="91.70" width="1.0" height="80.10" fill="#00BFC4" fill-opacity="0.6"/>
<rect x="569.91" y="40.20" width="1.0" height="76.80" fill="#F8766D" fill-opacity="0.6"/>
<rect x="571.46" y="78.80" width="1.0" height="74.20" fill="#00BFC4" fill-opacity="0.6"/>
<rect x="582.49" y="79.80" width="1.0" height="67.50" fill="#F8766D" fill-opacity="0.6"/>
<rect x="584.09" y="94.30" width="1.0" height="80.30" fill="#00BFC4" fill-opacity="0.6"/>
<rect x="585.64" y="92.30" width="1.0" height="70.20" fill="#F8766D" fill-opacity="0.6"/>
<rect x="587.19" y="84.80" width="1.0" height="74.90" fill="#00BFC4" fill-opacity="0.6"/>
<rect x="598.22" y="85.20" width="1.0" height="91.40" fill="#F8766D" fill-opacity="0.6"/>
<rect x="599.82" y="43.90" width="1.0" height="143.40" fill="#00BFC4" fill-opacity="0.6"/>
<rect x="601.37" y="54.00" width="1.0" height="82.00" fill="#F8766D" fill-opacity="0.6"/>
<rect x="602.92" y="64.00" width="1.0" height="114.60" fill="#00BFC4" fill-opacity="0.6"/>
<rect x="613.95" y="89.20" width="1.0" height="82.60" fill="#F8766D" fill-opacity="0.6"/>
<rect x="615.55" y="17.10" width="1.0" height="143.00" fill="#00BFC4" fill-opacity="0.6"/>
<rect x="617.10" y="76.70" width="1.0" height="81.30" fill="#F8766D" fill-opacity="0.6"/>
<rect x="618.65" y="43.90" width="1.0" height="114.20" fill="#00BFC4" fill-opacity="0.6"/>
<rect x="630.43" y="73.50" width="1.0" height="104.70" fill="#F8766D" fill-opacity="0.6"/>
<rect x="632.03" y="17.10" width="1.0" height="143.00" fill="#00BFC4" fill-opacity="0.6"/>
<rect x="633.63" y="71.10" width="1.0" height="95.40" fill="#F8766D" fill-opacity="0.6"/>
<circle cx="378.50" cy="99.30" r="1.25" fill="#F8766D"/>
<circle cx="380.10" cy="109.00" r="1.25" fill="#00BFC4"/>
<polygon points="381.65,108.42 380.21,111.01 383.09,111.01" fill="#F8766D"/>
<polygon points="383.20,127.62 381.76,130.21 384.64,130.21" fill="#00BFC4"/>
<circle cx="394.23" cy="111.70" r="1.25" fill="#F8766D"/>
<circle cx="395.83" cy="105.00" r="1.25" fill="#00BFC4"/>
<polygon points="397.38,104.42 395.94,107.01 398.82,107.01" fill="#F8766D"/>
<polygon points="398.93,110.92 397.49,113.51 400.37,113.51" fill="#00BFC4"/>
<circle cx="409.96" cy="98.90" r="1.25" fill="#F8766D"/>
<circle cx="411.56" cy="119.70" r="1.25" fill="#00BFC4"/>
<polygon points="413.11,91.72 411.67,94.31 414.55,94.31" fill="#F8766D"/>
<polygon points="414.66,131.22 413.22,133.81 416.10,133.81" fill="#00BFC4"/>
<circle cx="425.69" cy="94.90" r="1.25" fill="#F8766D"/>
<circle cx="427.29" cy="120.10" r="1.25" fill="#00BFC4"/>
<polygon points="428.84,98.32 427.40,100.91 430.28,100.91" fill="#F8766D"/>
<polygon points="430.39,118.12 428.95,120.71 431.83,120.71" fill="#00BFC4"/>
<circle cx="441.42" cy="100.90" r="1.25" fill="#F8766D"/>
<circle cx="443.02" cy="113.10" r="1.25" fill="#00BFC4"/>
<polygon points="444.57,100.72 443.13,103.31 446.01,103.31" fill="#F8766D"/>
<polygon points="446.12,111.12 444.68,113.71 447.56,113.71" fill="#00BFC4"/>
<circle cx="457.15" cy="101.70" r="1.25" fill="#F8766D"/>
<circle cx="458.75" cy="130.20" r="1.25" fill="#00BFC4"/>
<polygon points="460.30,103.82 458.86,106.41 461.74,106.41" fill="#F8766D"/>
<polygon points="461.85,128.22 460.41,130.81 463.29,130.81" fill="#00BFC4"/>
<circle cx="472.88" cy="103.00" r="1.25" fill="#F8766D"/>
<circle cx="474.48" cy="128.70" r="1.25" fill="#00BFC4"/>
<polygon points="476.03,98.72 474.59,101.31 477.47,101.31" fill="#F8766D"/>
<polygon points="477.58,124.12 476.14,126.71 479.02,126.71" fill="#00BFC4"/>
<circle cx="488.61" cy="109.60" r="1.25" fill="#F8766D"/>
<circle cx="490.21" cy="129.80" r="1.25" fill="#00BFC4"/>
<polygon points="491.76,100.72 490.32,103.31 493.20,103.31" fill="#F8766D"/>
<polygon points="493.31,116.12 491.87,118.71 494.75,118.71" fill="#00BFC4"/>
<circle cx="504.34" cy="103.80" r="1.25" fill="#F8766D"/>
<circle cx="505.94" cy="131.80" r="1.25" fill="#00BFC4"/>
<polygon points="507.49,106.42 506.05,109.01 508.93,109.01" fill="#F8766D"/>
<polygon points="509.04,109.92 507.60,112.51 510.48,112.51" fill="#00BFC4"/>
<circle cx="520.07" cy="106.40" r="1.25" fill="#F8766D"/>
<circle cx="521.67" cy="129.80" r="1.25" fill="#00BFC4"/>
<polygon points="523.22,97.72 521.78,100.31 524.66,100.31" fill="#F8766D"/>
<polygon points="524.77,114.12 523.33,116.71 526.21,116.71" fill="#00BFC4"/>
<circle cx="535.80" cy="110.50" r="1.25" fill="#F8766D"/>
<circle cx="537.40" cy="127.20" r="1.25" fill="#00BFC4"/>
<polygon points="538.95,106.82 537.51,109.41 540.39,109.41" fill="#F8766D"/>
<polygon points="540.50,116.92 539.06,119.51 541.94,119.51" fill="#00BFC4"/>
<circle cx="551.53" cy="119.70" r="1.25" fill="#F8766D"/>
<circle cx="553.13" cy="130.60" r="1.25" fill="#00BFC4"/>
<polygon points="554.68,127.62 553.24,130.21 556.12,130.21" fill="#F8766D"/>
<polygon points="556.23,116.92 554.79,119.51 557.67,119.51" fill="#00BFC4"/>
<circle cx="567.26" cy="122.50" r="1.25" fill="#F8766D"/>
<circle cx="568.86" cy="131.40" r="1.25" fill="#00BFC4"/>
<polygon points="570.41,77.22 568.97,79.81 571.85,79.81" fill="#F8766D"/>
<polygon points="571.96,114.52 570.52,117.11 573.40,117.11" fill="#00BFC4"/>
<circle cx="582.99" cy="113.70" r="1.25" fill="#F8766D"/>
<circle cx="584.59" cy="134.60" r="1.25" fill="#00BFC4"/>
<polygon points="586.14,126.22 584.70,128.81 587.58,128.81" fill="#F8766D"/>
<polygon points="587.69,120.92 586.25,123.51 589.13,123.51" fill="#00BFC4"/>
<circle cx="598.72" cy="131.20" r="1.25" fill="#F8766D"/>
<circle cx="600.32" cy="115.70" r="1.25" fill="#00BFC4"/>
<polygon points="601.87,93.32 600.43,95.91 603.31,95.91" fill="#F8766D"/>
<polygon points="603.42,119.52 601.98,122.11 604.86,122.11" fill="#00BFC4"/>
<circle cx="614.45" cy="130.60" r="1.25" fill="#F8766D"/>
<circle cx="616.05" cy="88.60" r="1.25" fill="#00BFC4"/>
<polygon points="617.60,116.12 616.16,118.71 619.04,118.71" fill="#F8766D"/>
<polygon points="619.15,99.32 617.71,101.91 620.59,101.91" fill="#00BFC4"/>
<circle cx="630.93" cy="125.80" r="1.25" fill="#F8766D"/>
<circle cx="632.53" cy="88.60" r="1.25" fill="#00BFC4"/>
<polygon points="634.13,117.12 632.69,119.71 635.57,119.71" fill="#F8766D"/>
<circle cx="387.50" cy="132.20" r="1.30" fill="#222"/>
<circle cx="418.40" cy="135.90" r="1.30" fill="#222"/>
<circle cx="455.10" cy="133.30" r="1.30" fill="#222"/>
<circle cx="465.40" cy="133.50" r="1.30" fill="#222"/>
<circle cx="471.30" cy="131.80" r="1.30" fill="#222"/>
<circle cx="487.00" cy="132.50" r="1.30" fill="#222"/>
<circle cx="502.50" cy="135.30" r="1.30" fill="#222"/>
<circle cx="518.70" cy="133.20" r="1.30" fill="#222"/>
<line x1="371.15000000000003" x2="643.0500000000001" y1="8.4" y2="8.4" stroke="#a6a6a6" stroke-width="0.9"/><line x1="371.15000000000003" x2="643.1" y1="196.3" y2="196.3" stroke="#c4c4c4" stroke-width="1.1"/><line x1="642.7" x2="642.7" y1="8.4" y2="196.3" stroke="#c4c4c4" stroke-width="1.1"/><line x1="371.6" x2="371.6" y1="8.4" y2="196.8" stroke="#8a8a8a" stroke-width="0.9"/>
<line x1="370.3" x2="371.6" y1="51.50" y2="51.50" stroke="#444" stroke-width="0.6"/>
<text class="sm" stroke="#333" x="369.20" y="52.95" font-size="4" fill="#333" text-anchor="end" font-family="Liberation Sans, sans-serif">4</text>
<line x1="370.3" x2="371.6" y1="105.90" y2="105.90" stroke="#444" stroke-width="0.6"/>
<text class="sm" stroke="#333" x="369.20" y="107.35" font-size="4" fill="#333" text-anchor="end" font-family="Liberation Sans, sans-serif">0</text>
<line x1="370.3" x2="371.6" y1="160.30" y2="160.30" stroke="#444" stroke-width="0.6"/>
<text class="sm" stroke="#333" x="369.20" y="161.75" font-size="4" fill="#333" text-anchor="end" font-family="Liberation Sans, sans-serif">−4</text>
<line x1="380.95" x2="380.95" y1="196.0" y2="197.3" stroke="#444" stroke-width="0.6"/>
<text class="sm" stroke="#333" transform="translate(383.70,216.1) rotate(-90)" font-size="4" fill="#333" text-anchor="middle" font-family="Liberation Sans, sans-serif">PACU</text>
<line x1="396.68" x2="396.68" y1="196.0" y2="197.3" stroke="#444" stroke-width="0.6"/>
<text class="sm" stroke="#333" transform="translate(399.43,216.1) rotate(-90)" font-size="4" fill="#333" text-anchor="middle" font-family="Liberation Sans, sans-serif">Transfer</text>
<line x1="412.41" x2="412.41" y1="196.0" y2="197.3" stroke="#444" stroke-width="0.6"/>
<text class="sm" stroke="#333" transform="translate(415.16,216.1) rotate(-90)" font-size="4" fill="#333" text-anchor="middle" font-family="Liberation Sans, sans-serif">6pm Post-Operative</text>
<line x1="428.14" x2="428.14" y1="196.0" y2="197.3" stroke="#444" stroke-width="0.6"/>
<text class="sm" stroke="#333" transform="translate(430.89,216.1) rotate(-90)" font-size="4" fill="#333" text-anchor="middle" font-family="Liberation Sans, sans-serif">6am Day 1</text>
<line x1="443.87" x2="443.87" y1="196.0" y2="197.3" stroke="#444" stroke-width="0.6"/>
<text class="sm" stroke="#333" transform="translate(446.62,216.1) rotate(-90)" font-size="4" fill="#333" text-anchor="middle" font-family="Liberation Sans, sans-serif">6pm Day 1</text>
<line x1="459.60" x2="459.60" y1="196.0" y2="197.3" stroke="#444" stroke-width="0.6"/>
<text class="sm" stroke="#333" transform="translate(462.35,216.1) rotate(-90)" font-size="4" fill="#333" text-anchor="middle" font-family="Liberation Sans, sans-serif">6am Day 2</text>
<line x1="475.33" x2="475.33" y1="196.0" y2="197.3" stroke="#444" stroke-width="0.6"/>
<text class="sm" stroke="#333" transform="translate(478.08,216.1) rotate(-90)" font-size="4" fill="#333" text-anchor="middle" font-family="Liberation Sans, sans-serif">6pm Day 2</text>
<line x1="491.06" x2="491.06" y1="196.0" y2="197.3" stroke="#444" stroke-width="0.6"/>
<text class="sm" stroke="#333" transform="translate(493.81,216.1) rotate(-90)" font-size="4" fill="#333" text-anchor="middle" font-family="Liberation Sans, sans-serif">6am Day 3</text>
<line x1="506.79" x2="506.79" y1="196.0" y2="197.3" stroke="#444" stroke-width="0.6"/>
<text class="sm" stroke="#333" transform="translate(509.54,216.1) rotate(-90)" font-size="4" fill="#333" text-anchor="middle" font-family="Liberation Sans, sans-serif">6pm Day 3</text>
<line x1="522.52" x2="522.52" y1="196.0" y2="197.3" stroke="#444" stroke-width="0.6"/>
<text class="sm" stroke="#333" transform="translate(525.27,216.1) rotate(-90)" font-size="4" fill="#333" text-anchor="middle" font-family="Liberation Sans, sans-serif">6am Day 4</text>
<line x1="538.25" x2="538.25" y1="196.0" y2="197.3" stroke="#444" stroke-width="0.6"/>
<text class="sm" stroke="#333" transform="translate(541.00,216.1) rotate(-90)" font-size="4" fill="#333" text-anchor="middle" font-family="Liberation Sans, sans-serif">6pm Day 4</text>
<line x1="553.98" x2="553.98" y1="196.0" y2="197.3" stroke="#444" stroke-width="0.6"/>
<text class="sm" stroke="#333" transform="translate(556.73,216.1) rotate(-90)" font-size="4" fill="#333" text-anchor="middle" font-family="Liberation Sans, sans-serif">6am Day 5</text>
<line x1="569.71" x2="569.71" y1="196.0" y2="197.3" stroke="#444" stroke-width="0.6"/>
<text class="sm" stroke="#333" transform="translate(572.46,216.1) rotate(-90)" font-size="4" fill="#333" text-anchor="middle" font-family="Liberation Sans, sans-serif">6pm Day 5</text>
<line x1="585.44" x2="585.44" y1="196.0" y2="197.3" stroke="#444" stroke-width="0.6"/>
<text class="sm" stroke="#333" transform="translate(588.19,216.1) rotate(-90)" font-size="4" fill="#333" text-anchor="middle" font-family="Liberation Sans, sans-serif">6am Day 6</text>
<line x1="601.17" x2="601.17" y1="196.0" y2="197.3" stroke="#444" stroke-width="0.6"/>
<text class="sm" stroke="#333" transform="translate(603.92,216.1) rotate(-90)" font-size="4" fill="#333" text-anchor="middle" font-family="Liberation Sans, sans-serif">6pm Day 6</text>
<line x1="616.90" x2="616.90" y1="196.0" y2="197.3" stroke="#444" stroke-width="0.6"/>
<text class="sm" stroke="#333" transform="translate(619.65,216.1) rotate(-90)" font-size="4" fill="#333" text-anchor="middle" font-family="Liberation Sans, sans-serif">6am Day 7</text>
<line x1="632.63" x2="632.63" y1="196.0" y2="197.3" stroke="#444" stroke-width="0.6"/>
<text class="sm" stroke="#333" transform="translate(635.38,216.1) rotate(-90)" font-size="4" fill="#333" text-anchor="middle" font-family="Liberation Sans, sans-serif">6pm Day 7</text>
<text class="tt" stroke="#111" x="507.10" y="238.9" font-size="4.8" fill="#111" text-anchor="middle" font-family="Liberation Sans, sans-serif">timepoints</text>
<text class="tt" stroke="#111" transform="translate(363.0,102.20) rotate(-90)" font-size="4.8" fill="#111" text-anchor="middle" font-family="Liberation Sans, sans-serif">Pain score difference</text>
<text class="tt" stroke="#111" x="649" y="79.4" font-size="4.8" fill="#111" font-family="Liberation Sans, sans-serif">effect</text>
<line x1="653.5" x2="653.5" y1="83.00" y2="89.00" stroke="#000" stroke-width="0.65"/><circle cx="653.50" cy="86.00" r="1.45" fill="#000"/>
<text x="659.4" y="87.45" font-size="4.2" fill="#1a1a1a" font-family="Liberation Sans, sans-serif">HUMI - AIR</text>
<line x1="653.5" x2="653.5" y1="90.40" y2="96.40" stroke="#000" stroke-width="0.65"/><polygon points="653.50,91.57 651.83,94.57 655.17,94.57" fill="#000"/>
<text x="659.4" y="94.85" font-size="4.2" fill="#1a1a1a" font-family="Liberation Sans, sans-serif">HUMI+ - AIR</text>
<text class="tt" stroke="#111" x="649.5" y="111.5" font-size="4.8" fill="#111" font-family="Liberation Sans, sans-serif">Endometriosis</text>
<line x1="653.5" x2="653.5" y1="114.50" y2="120.50" stroke="#F8766D" stroke-width="0.65"/><circle cx="653.50" cy="117.50" r="1.45" fill="#F8766D"/>
<text x="659.4" y="118.95" font-size="4.2" fill="#1a1a1a" font-family="Liberation Sans, sans-serif">No</text>
<line x1="653.5" x2="653.5" y1="122.30" y2="128.30" stroke="#00BFC4" stroke-width="0.65"/><circle cx="653.50" cy="125.30" r="1.45" fill="#00BFC4"/>
<text x="659.4" y="126.75" font-size="4.2" fill="#1a1a1a" font-family="Liberation Sans, sans-serif">Yes</text>
<text x="0.3" y="11.9" font-size="15.5" font-weight="bold" fill="#000" font-family="Liberation Sans, sans-serif">a</text>
<text x="358.1" y="11.9" font-size="15.5" font-weight="bold" fill="#000" font-family="Liberation Sans, sans-serif">b</text>
</svg>
</div>
</body></html>
